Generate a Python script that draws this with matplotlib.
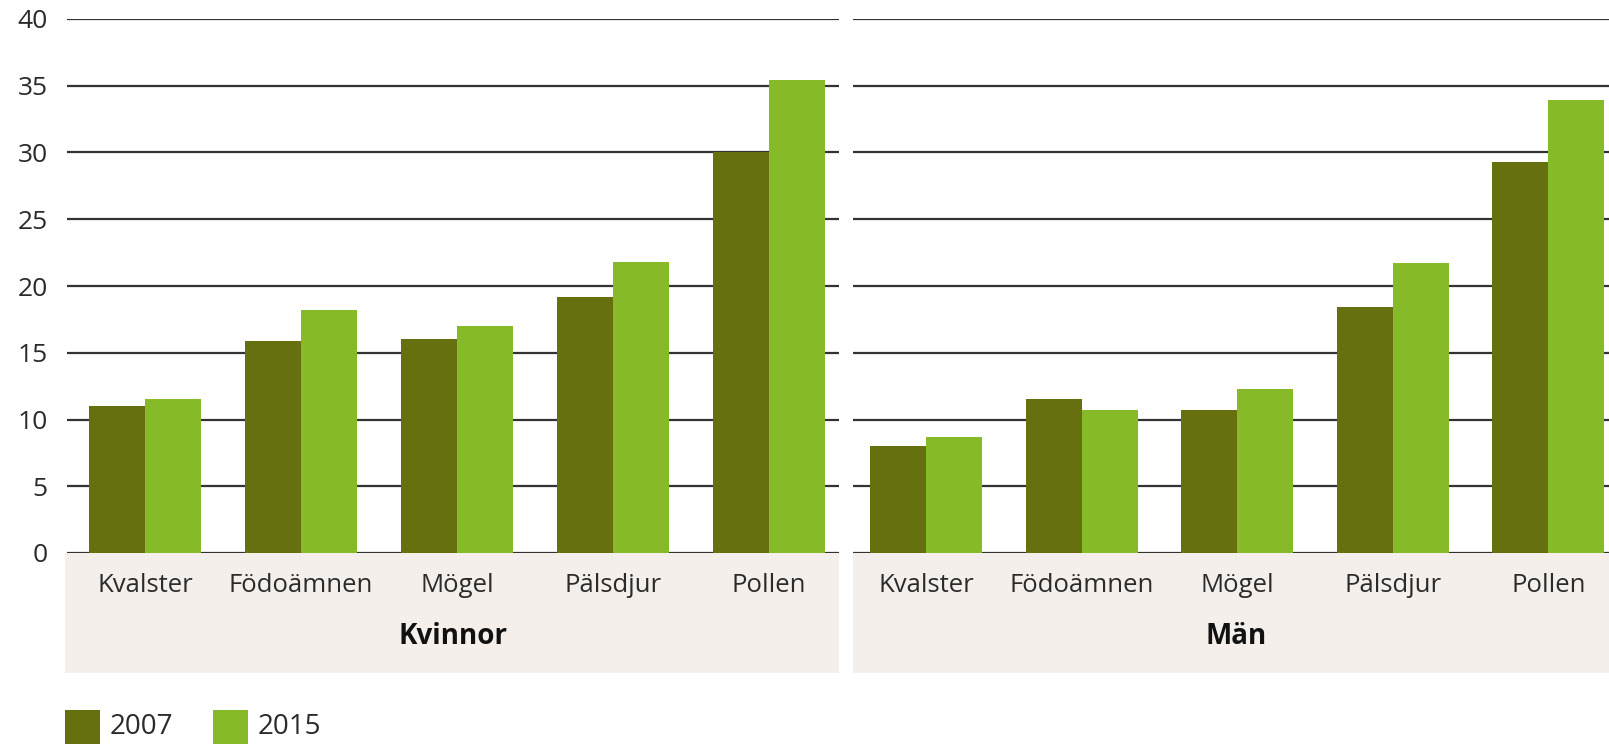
import matplotlib.pyplot as plt
from matplotlib.patches import Rectangle
from matplotlib.transforms import blended_transform_factory

# Data
kategorier = ["Kvalster", "Födoämnen", "Mögel", "Pälsdjur", "Pollen"]
grupper = ["Kvinnor", "Män"]
ar = ["2007", "2015"]
kvinnor_2007 = [11.0, 15.9, 16.0, 19.2, 30.0]
kvinnor_2015 = [11.5, 18.2, 17.0, 21.8, 35.4]
man_2007 = [8.0, 11.5, 10.7, 18.4, 29.3]
man_2015 = [8.7, 10.7, 12.3, 21.7, 33.9]

farg = ["#66700e", "#86ba28"]
beige = "#f4efeb"
text_farg = "#2b2b2b"

plt.rcParams["font.family"] = ["Open Sans", "DejaVu Sans"]

W, H = 1609, 744
fig = plt.figure(figsize=(W / 100, H / 100), dpi=100)
fig.patch.set_facecolor("white")

y0_px, y40_px = 553, 19
bottom = (H - y0_px) / H
height = (y0_px - y40_px) / H

# panel geometry in pixels: (axes left, axes right, beige left, beige right, xlim)
paneler = [
    (67, 839, 65, 839, (-0.50, 4.45), [kvinnor_2007, kvinnor_2015], 453),
    (853, 1609, 853, 1609, (-0.47, 4.39), [man_2007, man_2015], 1236),
]

bw = 0.36
for i, (xl, xr, bl, br, xlim, serier, mitt) in enumerate(paneler):
    # beige label area
    fig.patches.append(Rectangle((bl / W, (H - 673) / H), (br - bl) / W, (673 - y0_px) / H,
                                 transform=fig.transFigure, facecolor=beige,
                                 edgecolor="none", zorder=-1))
    ax = fig.add_axes([xl / W, bottom, (xr - xl) / W, height])
    ax.set_facecolor("none")
    ax.set_xlim(*xlim)
    ax.set_ylim(0, 40)
    ax.set_yticks(range(0, 41, 5))
    for y in range(0, 41, 5):
        ax.axhline(y, color="#333333", lw=1.6, zorder=1)
    x = list(range(len(kategorier)))
    ax.bar([v - bw / 2 for v in x], serier[0], width=bw, color=farg[0], zorder=2)
    ax.bar([v + bw / 2 for v in x], serier[1], width=bw, color=farg[1], zorder=2)
    for s in ax.spines.values():
        s.set_visible(False)
    ax.set_xticks([])
    ax.tick_params(axis="y", length=0, pad=14, labelsize=19, labelcolor=text_farg)
    if i == 1:
        ax.set_yticklabels([])
    trans = blended_transform_factory(ax.transData, fig.transFigure)
    for xi, namn in zip(x, kategorier):
        ax.text(xi, (H - 586) / H, namn, transform=trans, ha="center", va="center",
                fontsize=18.5, color=text_farg)
    fig.text(mitt / W, (H - 636) / H, grupper[i], ha="center", va="center",
             fontsize=20, fontweight="bold", color="#111111")

# legend
for j, (lbl, xs) in enumerate(zip(ar, [65, 213])):
    fig.patches.append(Rectangle((xs / W, 0), 35 / W, 34 / H, transform=fig.transFigure,
                                 facecolor=farg[j], edgecolor="none"))
    fig.text((xs + 45) / W, (H - 727) / H, lbl, ha="left", va="center",
             fontsize=20, color=text_farg)

fig.savefig("out.png", dpi=100)
